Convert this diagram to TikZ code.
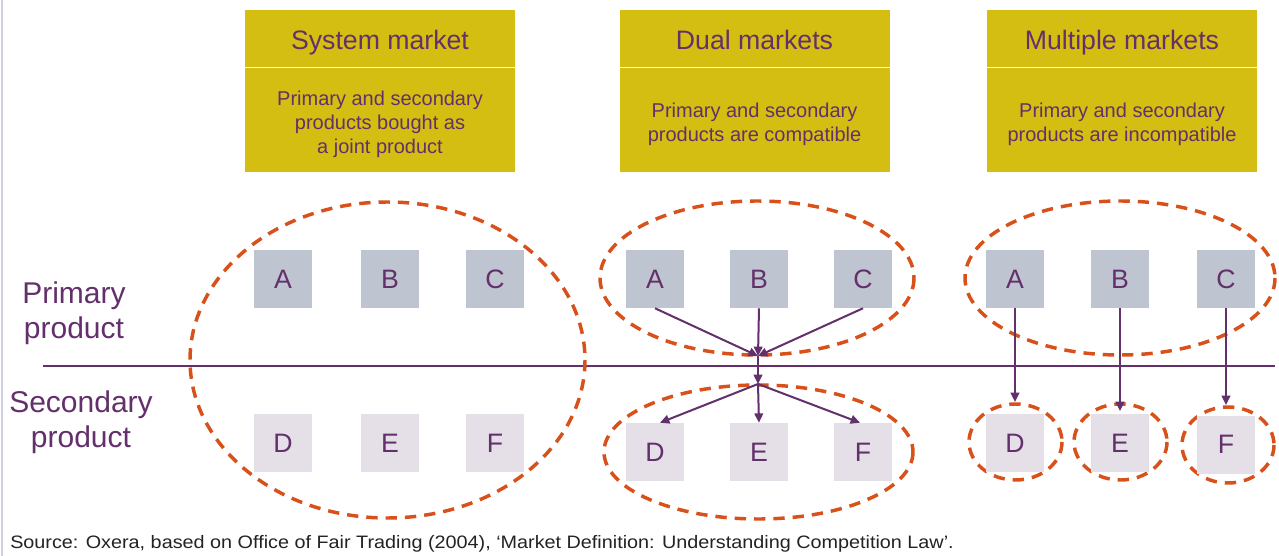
\documentclass[tikz,border=0pt]{standalone}
\usepackage{fontspec}
\setmainfont{Liberation Sans}
\newfontfamily\srcfont[FakeStretch=1.1]{Liberation Sans}
\usetikzlibrary{arrows.meta}
\definecolor{plum}{RGB}{99,48,107}
\definecolor{gold}{RGB}{212,190,18}
\definecolor{upgray}{RGB}{191,197,208}
\definecolor{lowgray}{RGB}{229,223,231}
\definecolor{rust}{RGB}{216,80,26}
\definecolor{edge}{RGB}{205,208,226}
\definecolor{srcgray}{RGB}{35,35,35}
\begin{document}
\begin{tikzpicture}[x=0.75pt,y=-0.75pt,
  titlebox/.style={fill=gold, inner sep=0pt,
    minimum width=202.5pt, minimum height=42.75pt},
  textbox/.style={fill=gold, inner sep=0pt,
    minimum width=202.5pt, minimum height=78pt},
  titletext/.style={text=plum, inner sep=0pt, anchor=base,
    font=\fontsize{20}{24}\selectfont},
  bodytext/.style={text=plum, inner sep=0pt, align=center,
    font=\fontsize{15}{18}\selectfont},
  prod/.style={inner sep=0pt, minimum size=43.5pt, text=plum,
    font=\fontsize{20}{24}\selectfont},
  upper/.style={prod, fill=upgray},
  lower/.style={prod, fill=lowgray},
  rowlabel/.style={text=plum, align=center, inner sep=0pt,
    font=\fontsize{22.5}{26.25}\selectfont},
  grp/.style={draw=rust, line width=2.6pt, dash pattern=on 8.5pt off 6pt},
  flow/.style={draw=plum, line width=1.5pt, -{Triangle[length=7pt,width=6.5pt]}},
  divider/.style={draw=plum, line width=1.5pt}]

\useasboundingbox (0,0) rectangle (1279,556);
\fill[white] (0,0) rectangle (1279,556);
\draw[edge, line width=0.8pt] (2,0) -- (2,556);

% column headers: gold panels
\node[titlebox] (h1) at (380,38.5) {};
\node[textbox]  (d1) at (380,120) {};
\node[titlebox] (h2) at (754.5,38.5) {};
\node[textbox]  (d2) at (754.5,120) {};
\node[titlebox] (h3) at (1122,38.5) {};
\node[textbox]  (d3) at (1122,120) {};

% column headers: captions
\node[titletext] (t1) at (380,50) {System market};
\node[titletext] (t2) at (754.5,50) {Dual markets};
\node[titletext] (t3) at (1122,50) {Multiple markets};
\node[bodytext] (b1t) at (380,124) {Primary and secondary\\products bought as\\a joint product};
\node[bodytext] (b2t) at (754.5,124) {Primary and secondary\\products are compatible};
\node[bodytext] (b3t) at (1122,124) {Primary and secondary\\products are incompatible};

% row labels and divider
\node[rowlabel] (lp) at (74,313.5) {Primary\\product};
\node[rowlabel] (ls) at (81,422.5) {Secondary\\product};
\coordinate (axL) at (43,365.5);
\coordinate (axR) at (1275,365.5);
\draw[divider] (axL) -- (axR);

% market boundaries
\draw[grp] (387.5,360) ellipse [x radius=197.5, y radius=158];
\draw[grp] (757,278) ellipse [x radius=157, y radius=77];
\draw[grp] (758.5,452) ellipse [x radius=154.5, y radius=67];
\draw[grp] (1120,278) ellipse [x radius=155, y radius=77];
\draw[grp] (1015.5,442) ellipse [x radius=46.5, y radius=38];
\draw[grp] (1120.5,442) ellipse [x radius=46.5, y radius=38];
\draw[grp] (1228,445) ellipse [x radius=46, y radius=38];

% system market
\node[upper] (a1) at (283,279) {A};
\node[upper] (b1) at (390,279) {B};
\node[upper] (c1) at (495,279) {C};
\node[lower] (e1d) at (283,443) {D};
\node[lower] (e1e) at (390,443) {E};
\node[lower] (e1f) at (495,443) {F};

% dual markets
\node[upper] (a2) at (655,279) {A};
\node[upper] (b2) at (759,279) {B};
\node[upper] (c2) at (863,279) {C};
\node[lower] (e2d) at (655,452) {D};
\node[lower] (e2e) at (759,452) {E};
\node[lower] (e2f) at (863,452) {F};
\coordinate (m1) at (758,356);
\coordinate (m2) at (758,384);
\draw[flow] (a2.south) -- (m1);
\draw[flow] (b2.south) -- (m1);
\draw[flow] (c2.south) -- (m1);
\draw[flow] (m1) -- (m2);
\draw[flow] (m2) -- ([xshift=3.75pt]e2d.north);
\draw[flow] (m2) -- (e2e.north);
\draw[flow] (m2) -- ([xshift=-2.25pt]e2f.north);

% multiple markets
\node[upper] (a3) at (1015,279) {A};
\node[upper] (b3) at (1120,279) {B};
\node[upper] (c3) at (1226,279) {C};
\node[lower] (e3d) at (1015,443) {D};
\node[lower] (e3e) at (1120,443) {E};
\node[lower] (e3f) at (1226,444.5) {F};
\coordinate (tD) at (1015,402);
\coordinate (tE) at (1120,411);
\coordinate (tF) at (1226,405);
\draw[flow] (a3.south) -- (tD);
\draw[flow] (b3.south) -- (tE);
\draw[flow] (c3.south) -- (tF);

% source line
\node[anchor=west, inner sep=0pt, text=srcgray, font=\srcfont\fontsize{13.5}{16}\selectfont]
  (src) at (10,544) {Source: Oxera, based on Office of Fair Trading (2004), ‘Market Definition: Understanding Competition Law’.};
\end{tikzpicture}
\end{document}
